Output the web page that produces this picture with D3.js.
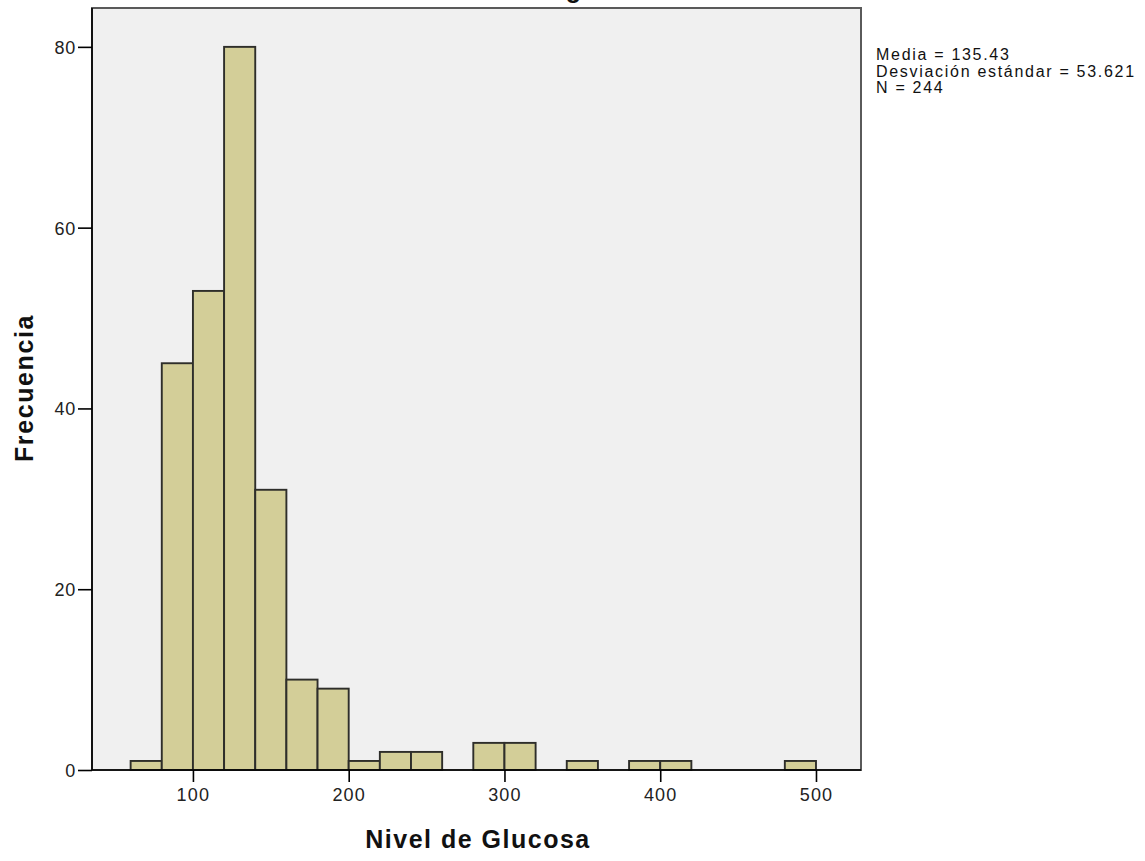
<!DOCTYPE html>
<html>
<head>
<meta charset="utf-8">
<script src="https://cdn.jsdelivr.net/npm/d3@7"></script>
<style>
  html, body { margin: 0; padding: 0; background: #ffffff; }
  svg { display: block; font-family: "Liberation Sans", Arial, sans-serif; }
</style>
</head>
<body>
<svg id="chart" width="1145" height="861"></svg>
<script>
// Histogram bins (lower edge of each 20-unit bin) and their frequencies
const binStarts = [60, 80, 100, 120, 140, 160, 180, 200, 220, 240, 260, 280, 300, 320, 340, 360, 380, 400, 420, 440, 460, 480];
const counts    = [ 1, 45,  53,  80,  31,  10,   9,   1,   2,   2,   0,   3,   3,   0,   1,   0,   1,   1,   0,   0,   0,   1];
const binWidth = 20;
const xTicks = [100, 200, 300, 400, 500];
const yTicks = [0, 20, 40, 60, 80];
const statLines = ["Media = 135.43", "Desviación estándar = 53.621", "N = 244"];
const chartTitle = "Histograma";
const xTitle = "Nivel de Glucosa";
const yTitle = "Frecuencia";

const svg = d3.select("#chart");
const plot = { left: 92, right: 861, top: 8, bottom: 770 };

const x = d3.scaleLinear().domain([35.2, 528.9]).range([plot.left, plot.right]);
const y = d3.scaleLinear().domain([0, 84.3]).range([plot.bottom, plot.top]);

// Title (sits mostly above the visible area)
svg.append("text")
  .attr("x", 572).attr("y", -2)
  .attr("text-anchor", "middle")
  .attr("font-size", 25).attr("font-weight", "bold")
  .attr("letter-spacing", 1.5)
  .attr("fill", "#111")
  .text(chartTitle);

// Plot background and frame
svg.append("rect")
  .attr("x", plot.left).attr("y", plot.top)
  .attr("width", plot.right - plot.left).attr("height", plot.bottom - plot.top)
  .attr("fill", "#f0f0f0")
  .attr("stroke", "#5a5a5a").attr("stroke-width", 2);

// Bars
const data = binStarts.map((s, i) => ({ x0: s, x1: s + binWidth, n: counts[i] })).filter(d => d.n > 0);
svg.append("g").selectAll("rect")
  .data(data)
  .join("rect")
  .attr("x", d => x(d.x0))
  .attr("y", d => y(d.n))
  .attr("width", d => x(d.x1) - x(d.x0))
  .attr("height", d => y(0) - y(d.n))
  .attr("fill", "#d3ce98")
  .attr("stroke", "#2e2e2a")
  .attr("stroke-width", 1.9);

// Y axis
const yAxis = svg.append("g")
  .attr("transform", `translate(${plot.left},0)`)
  .call(d3.axisLeft(y).tickValues(yTicks).tickSize(14).tickPadding(2).tickFormat(d3.format("d")));
yAxis.select(".domain").attr("d", `M0,${plot.top}V${plot.bottom}`).attr("stroke", "#000").attr("stroke-width", 1.6);
yAxis.selectAll(".tick line").attr("stroke", "#000").attr("stroke-width", 1.6);
yAxis.selectAll(".tick text")
  .attr("font-size", 18).attr("fill", "#222")
  .attr("font-family", "\"Liberation Sans\", Arial, sans-serif")
  .attr("letter-spacing", 0.8)
  .attr("dy", "0.36em");

// X axis
const xAxis = svg.append("g")
  .attr("transform", `translate(0,${plot.bottom})`)
  .call(d3.axisBottom(x).tickValues(xTicks).tickSize(12).tickPadding(6).tickFormat(d3.format("d")));
xAxis.select(".domain").attr("d", `M${plot.left},0H${plot.right}`).attr("stroke", "#000").attr("stroke-width", 1.6);
xAxis.selectAll(".tick line").attr("stroke", "#000").attr("stroke-width", 1.6);
xAxis.selectAll(".tick text")
  .attr("font-size", 18).attr("fill", "#222")
  .attr("font-family", "\"Liberation Sans\", Arial, sans-serif")
  .attr("letter-spacing", 1.2);

// Axis titles
svg.append("text")
  .attr("x", 478).attr("y", 848)
  .attr("text-anchor", "middle")
  .attr("font-size", 25).attr("font-weight", "bold")
  .attr("letter-spacing", 1.5)
  .attr("fill", "#111")
  .text(xTitle);

svg.append("text")
  .attr("transform", "translate(33,388) rotate(-90)")
  .attr("text-anchor", "middle")
  .attr("font-size", 25).attr("font-weight", "bold")
  .attr("letter-spacing", 1.6)
  .attr("fill", "#111")
  .text(yTitle);

// Summary statistics
svg.append("g").selectAll("text")
  .data(statLines)
  .join("text")
  .attr("x", 876)
  .attr("y", (d, i) => 60 + i * 16.5)
  .attr("font-size", 16)
  .attr("letter-spacing", 1.7)
  .attr("fill", "#111")
  .text(d => d);
</script>
</body>
</html>
